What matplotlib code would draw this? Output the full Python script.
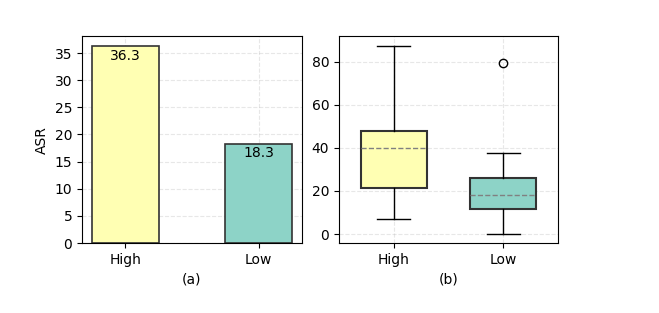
import numpy as np
import matplotlib
matplotlib.use("Agg")
from matplotlib import pyplot as plt

# Data
groups = ["High", "Low"]
asr_mean = [36.3, 18.3]
colors = ["#ffffb3", "#8dd3c7"]

# box stats (whisker low, q1, median, q3, whisker high)
box_whislo = [7.2, 0.2]
box_q1 = [21.2, 11.5]
box_med = [40.1, 18.3]
box_q3 = [48.0, 25.9]
box_whishi = [87.6, 37.6]
box_fliers = [[], [79.4]]

fig = plt.figure(figsize=(6.59, 3.13), dpi=100)
ax1 = fig.add_axes([0.1244, 0.2236, 0.3338, 0.661])
ax2 = fig.add_axes([0.5144, 0.2236, 0.3323, 0.661])

edge = "#333333"

# (a) bar chart
x = np.arange(len(groups))
bars = ax1.bar(x, asr_mean, width=0.5, color=colors, edgecolor=edge, linewidth=1.2)
for b, v in zip(bars, asr_mean):
    ax1.annotate(f"{v:.1f}", (b.get_x() + b.get_width() / 2, v), xytext=(0, -2),
                 textcoords="offset points", ha="center", va="top", fontsize=10)
ax1.set_xticks(x)
ax1.set_xticklabels(groups)
ax1.set_ylabel("ASR")
ax1.set_xlabel("(a)")
ax1.set_yticks(range(0, 40, 5))
ax1.grid(True, linestyle="--", alpha=0.3)
ax1.set_axisbelow(True)

# (b) box plot
stats = []
for i in range(len(groups)):
    stats.append(dict(whislo=box_whislo[i], q1=box_q1[i], med=box_med[i],
                      q3=box_q3[i], whishi=box_whishi[i], fliers=box_fliers[i]))
bp = ax2.bxp(stats, positions=x, widths=0.6, patch_artist=True,
             boxprops=dict(edgecolor=edge, linewidth=1.5),
             medianprops=dict(color="gray", linestyle="--", linewidth=1),
             whiskerprops=dict(color="black", linewidth=1),
             capprops=dict(color="black", linewidth=1),
             flierprops=dict(marker="o", markerfacecolor="none", markeredgecolor="black", markersize=6))
for patch, c in zip(bp["boxes"], colors):
    patch.set_facecolor(c)
ax2.set_xticks(x)
ax2.set_xticklabels(groups)
ax2.set_xlim(-0.5, 1.5)
ax2.set_yticks(range(0, 81, 20))
ax2.set_xlabel("(b)")
ax2.grid(True, linestyle="--", alpha=0.3)
ax2.set_axisbelow(True)

fig.savefig("out.png", dpi=100)
